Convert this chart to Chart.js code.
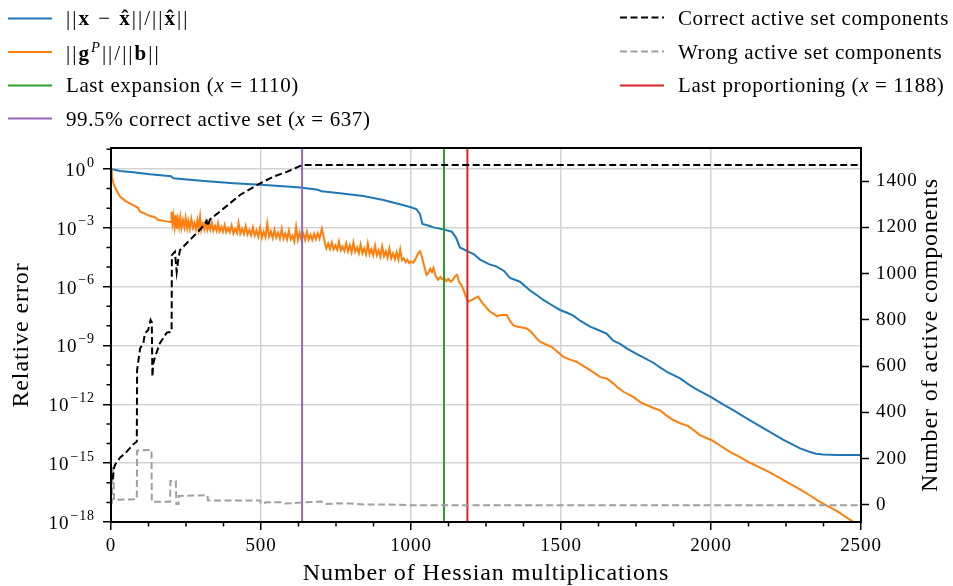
<!DOCTYPE html>
<html>
<head>
<meta charset="utf-8">
<script src="https://cdn.jsdelivr.net/npm/chart.js@4.4.1/dist/chart.umd.min.js"></script>
<style>
  html, body { margin: 0; padding: 0; background: #fff; }
  #wrap { position: relative; width: 953px; height: 586px; font-family: 'Liberation Serif', serif; }
  #chart { position: absolute; left: 0; top: 0; }
  .leg { position: absolute; display: flex; align-items: center; font-size: 21px; line-height: 1;
         letter-spacing: 0.6px; white-space: nowrap; color: #000; transform: translateY(-50%); }
  .leg svg { margin-right: 14px; flex: none; }
  .leg sup { font-size: 0.7em; vertical-align: 0.55em; }
  .leg .math { letter-spacing: 2px; }
</style>
</head>
<body>
<div id="wrap">
  <canvas id="chart" width="953" height="586"></canvas>
  <div id="legend"></div>
</div>
<script>
// ||x - x^|| / ||x^||  (log10 of the relative error)
const blueX = [0, 30, 74, 130, 200, 208, 300, 408, 500, 586,
  630, 690, 702, 763, 841, 908, 963, 1000, 1019, 1030,
  1038, 1063, 1074, 1108, 1136, 1150, 1163, 1186, 1210, 1230,
  1260, 1286, 1310, 1330, 1363, 1397, 1419, 1441, 1470, 1497,
  1520, 1541, 1565, 1597, 1630, 1652, 1674, 1697, 1719, 1750,
  1774, 1808, 1830, 1858, 1897, 1925, 1952, 2002, 2040, 2074,
  2130, 2186, 2240, 2297, 2330, 2350, 2374, 2420, 2500];
const blueLog10 = [0, -0.10, -0.17, -0.27, -0.37, -0.47, -0.60, -0.73, -0.81, -0.90,
  -0.95, -1.06, -1.14, -1.24, -1.38, -1.58, -1.80, -1.95, -2.06, -2.30,
  -2.80, -2.91, -2.98, -3.08, -3.20, -3.50, -4.00, -4.18, -4.35, -4.62,
  -4.85, -4.98, -5.20, -5.55, -5.75, -6.20, -6.43, -6.68, -6.95, -7.19,
  -7.33, -7.48, -7.75, -8.04, -8.25, -8.40, -8.75, -8.92, -9.15, -9.42,
  -9.61, -9.88, -10.12, -10.39, -10.68, -10.98, -11.24, -11.65, -12.00, -12.30,
  -12.82, -13.32, -13.80, -14.25, -14.43, -14.52, -14.56, -14.58, -14.58];

// ||g^P|| / ||b||  (log10)
const gradX = [0, 3, 8, 15, 30, 50, 74, 90, 97, 110,
  130, 145, 158, 180, 200, 202, 205, 208, 212, 216,
  219, 223, 227, 231, 235, 240, 245, 249, 254, 258,
  263, 268, 273, 278, 283, 288, 292, 297, 301, 306,
  311, 316, 321, 326, 331, 336, 341, 347, 352, 357,
  362, 368, 373, 379, 384, 390, 396, 402, 408, 414,
  420, 425, 431, 437, 443, 449, 455, 461, 467, 473,
  479, 485, 491, 497, 503, 509, 515, 521, 527, 533,
  539, 545, 551, 557, 563, 569, 575, 581, 587, 593,
  599, 605, 611, 617, 623, 629, 635, 641, 647, 653,
  659, 665, 671, 677, 683, 689, 695, 703, 708, 714,
  718, 724, 730, 736, 742, 748, 754, 760, 766, 772,
  778, 784, 790, 796, 802, 808, 814, 820, 826, 832,
  838, 844, 850, 856, 862, 868, 874, 880, 886, 892,
  898, 904, 910, 916, 922, 928, 934, 940, 946, 952,
  958, 964, 970, 976, 982, 988, 994, 1000, 1008, 1016,
  1024, 1030, 1036, 1044, 1052, 1058, 1064, 1070, 1075, 1082,
  1090, 1098, 1104, 1110, 1118, 1124, 1132, 1140, 1148, 1154,
  1160, 1168, 1176, 1184, 1191, 1200, 1212, 1224, 1232, 1242,
  1250, 1258, 1266, 1275, 1286, 1300, 1319, 1330, 1341, 1355,
  1370, 1386, 1400, 1419, 1430, 1450, 1469, 1490, 1508, 1530,
  1552, 1575, 1597, 1630, 1652, 1674, 1690, 1708, 1741, 1765,
  1786, 1810, 1830, 1850, 1874, 1900, 1924, 1945, 1963, 2002,
  2030, 2063, 2100, 2130, 2160, 2186, 2220, 2252, 2297, 2330,
  2363, 2400, 2419, 2450, 2469, 2490, 2500];
const gradLog10 = [0, -0.40, -0.73, -1.00, -1.41, -1.65, -1.84, -1.98, -2.18, -2.25,
  -2.40, -2.45, -2.60, -2.66, -2.70, -2.18, -2.75, -2.40, -2.95, -2.35,
  -3.05, -2.55, -2.95, -2.45, -3.00, -2.60, -2.98, -2.50, -3.02, -2.65,
  -3.05, -2.55, -3.00, -2.75, -3.08, -2.62, -3.05, -2.42, -3.10, -2.80,
  -3.08, -2.70, -3.12, -2.85, -3.10, -2.72, -3.15, -2.90, -3.15, -2.78,
  -3.18, -2.95, -3.20, -2.85, -3.22, -3.00, -3.22, -2.88, -3.28, -3.05,
  -3.27, -2.75, -3.30, -3.05, -3.32, -2.92, -3.35, -3.12, -3.38, -2.98,
  -3.40, -3.15, -3.45, -3.00, -3.50, -3.20, -3.48, -2.78, -3.45, -3.18,
  -3.52, -3.10, -3.50, -3.25, -3.55, -3.05, -3.55, -3.30, -3.60, -3.15,
  -3.58, -3.40, -3.70, -2.95, -3.62, -3.25, -3.65, -3.30, -3.62, -3.20,
  -3.60, -3.35, -3.62, -3.30, -3.58, -3.28, -3.55, -3.05, -3.40, -3.85,
  -4.05, -3.80, -4.08, -3.75, -4.10, -3.90, -4.12, -3.70, -4.15, -3.95,
  -4.18, -3.80, -4.20, -3.90, -4.25, -3.75, -4.22, -4.00, -4.30, -3.85,
  -4.30, -4.05, -4.35, -3.80, -4.35, -4.10, -4.40, -3.90, -4.40, -4.15,
  -4.48, -3.95, -4.45, -4.20, -4.52, -4.05, -4.55, -4.30, -4.60, -4.25,
  -4.62, -4.10, -4.65, -4.55, -4.75, -4.62, -4.80, -4.72, -4.78, -4.55,
  -4.30, -4.20, -4.45, -4.95, -5.40, -5.30, -5.10, -5.25, -5.05, -5.45,
  -5.65, -5.50, -5.62, -5.55, -5.72, -5.60, -5.75, -5.65, -5.45, -5.40,
  -5.75, -5.92, -6.20, -6.55, -6.77, -6.70, -6.60, -6.51, -6.70, -6.90,
  -7.05, -7.19, -7.30, -7.38, -7.50, -7.45, -7.45, -7.75, -7.96, -8.05,
  -8.08, -8.13, -8.30, -8.64, -8.81, -8.95, -9.07, -9.35, -9.58, -9.72,
  -9.83, -10.05, -10.26, -10.60, -10.68, -10.93, -11.15, -11.36, -11.62, -11.90,
  -12.04, -12.20, -12.30, -12.55, -12.80, -12.98, -13.11, -13.35, -13.57, -13.83,
  -14.10, -14.42, -14.72, -14.98, -15.20, -15.39, -15.68, -15.95, -16.34, -16.65,
  -16.97, -17.28, -17.43, -17.75, -17.94, -18.15, -18.25];

// active set components (right axis)
const correctX = [5, 10, 14, 30, 47, 74, 86, 87, 97, 108,
  113, 124, 132, 136, 138, 141, 147, 163, 186, 202,
  203, 213, 219, 224, 230, 274, 300, 319, 323, 330,
  363, 430, 497, 541, 586, 630, 641, 2500];
const correctCount = [110, 160, 175, 205, 223, 262, 274, 583, 677, 699,
  742, 756, 800, 790, 554, 612, 641, 699, 745, 749,
  1080, 1095, 1008, 1060, 1102, 1160, 1195, 1228, 1205, 1235,
  1268, 1340, 1390, 1419, 1440, 1465, 1469, 1469];
const wrongX = [0, 3, 5, 8, 10, 86, 87, 135, 136, 197,
  198, 216, 218, 225, 226, 322, 323, 497, 499, 520,
  570, 580, 640, 700, 712, 760, 800, 850, 930, 1000,
  1100, 2500];
const wrongCount = [0, 10, 160, 160, 22, 25, 235, 238, 14, 14,
  104, 104, 4, 4, 39, 42, 20, 19, 6, 12,
  12, 6, 11, 15, 4, 7, 6, 2, 2, -1,
  -1, -1];

// vertical markers: last expansion, 99.5% correct active set, last proportioning
const markerX = [1110, 637, 1188];

// axes
const xTicks = [0, 500, 1000, 1500, 2000, 2500];
const leftTicks = [1e-18, 1e-15, 1e-12, 1e-9, 1e-6, 1e-3, 1];
const rightTicks = [0, 200, 400, 600, 800, 1000, 1200, 1400];
const leftMin = 1e-18, leftMax = 11.7;
const rightMin = -73.5, rightMax = 1543;

const legendText = [
  '<span class="math">||<b>x</b> &minus; <b>x&#770;</b>||/||<b>x&#770;</b>||</span>',
  '<span class="math">||<b>g</b><sup><i>P</i></sup>||/||<b>b</b>||</span>',
  'Last expansion (<i>x</i> = ' + markerX[0] + ')',
  '99.5% correct active set (<i>x</i> = ' + markerX[1] + ')',
  'Correct active set components',
  'Wrong active set components',
  'Last proportioning (<i>x</i> = ' + markerX[2] + ')'
];

function logPoints(xs, ls) {
  const n = Math.min(xs.length, ls.length);
  const pts = [];
  for (let i = 0; i < n; i++) pts.push({ x: xs[i], y: Math.pow(10, ls[i]) });
  return pts;
}
function points(xs, ys) {
  const n = Math.min(xs.length, ys.length);
  const pts = [];
  for (let i = 0; i < n; i++) pts.push({ x: xs[i], y: ys[i] });
  return pts;
}
function vline(x) {
  return [{ x: x, y: leftMin }, { x: x, y: leftMax }];
}

const SERIF = "'Liberation Serif', serif";
const DASH = [7, 3.5];
const TICK_SIZE = 19;

Chart.defaults.font.family = SERIF;
Chart.defaults.color = '#000';

// minor ticks, frame, log tick labels and right axis title
const axisExtras = {
  id: 'axisExtras',
  beforeDraw(chart) {
    chart.ctx.letterSpacing = '0.9px';
  },
  afterDatasetsDraw(chart) {
    const { ctx, chartArea: a, scales } = chart;
    ctx.save();
    ctx.strokeStyle = '#000';
    ctx.lineWidth = 1.5;
    ctx.beginPath();
    for (let v = 125; v < 2500; v += 125) {
      if (v % 500 === 0) continue;
      const px = scales.x.getPixelForValue(v);
      ctx.moveTo(px, a.bottom);
      ctx.lineTo(px, a.bottom + 4.5);
    }
    for (let e = -17; e <= 1; e++) {
      if (e % 3 === 0) continue;
      const py = scales.y.getPixelForValue(Math.pow(10, e));
      if (py < a.top) continue;
      ctx.moveTo(a.left, py);
      ctx.lineTo(a.left - 4.5, py);
    }
    ctx.stroke();
    ctx.lineWidth = 2;
    ctx.strokeRect(a.left, a.top, a.right - a.left, a.bottom - a.top);

    // 10^n labels of the log axis, exponent raised
    ctx.fillStyle = '#000';
    ctx.textBaseline = 'middle';
    const right = a.left - 16;
    leftTicks.forEach(v => {
      const py = scales.y.getPixelForValue(v);
      const exp = Math.round(Math.log10(v));
      const expText = exp < 0 ? '\u2212' + (-exp) : String(exp);
      ctx.font = '14px ' + SERIF;
      const we = ctx.measureText(expText).width;
      ctx.textAlign = 'left';
      ctx.fillText(expText, right - we, py - 6);
      ctx.font = TICK_SIZE + 'px ' + SERIF;
      ctx.textAlign = 'right';
      ctx.fillText('10', right - we - 1, py + 2);
    });

    ctx.font = '24px ' + SERIF;
    ctx.textAlign = 'center';
    ctx.translate(931, (a.top + a.bottom) / 2);
    ctx.rotate(-Math.PI / 2);
    ctx.fillText('Number of active components', 0, 0);
    ctx.restore();
  }
};

const ctx = document.getElementById('chart').getContext('2d');
const chart = new Chart(ctx, {
  type: 'line',
  data: {
    datasets: [
      { label: '||x - x^||/||x^||', data: logPoints(blueX, blueLog10), borderColor: '#1f77b4', yAxisID: 'y', order: 6 },
      { label: '||g^P||/||b||', data: logPoints(gradX, gradLog10), borderColor: '#ff7f0e', yAxisID: 'y', order: 5 },
      { label: 'Last expansion', data: vline(markerX[0]), borderColor: '#2ca02c', yAxisID: 'y', order: 4 },
      { label: '99.5% correct active set', data: vline(markerX[1]), borderColor: '#9467bd', yAxisID: 'y', order: 3 },
      { label: 'Correct active set components', data: points(correctX, correctCount), borderColor: '#000000', borderDash: DASH, yAxisID: 'y2', order: 0 },
      { label: 'Wrong active set components', data: points(wrongX, wrongCount), borderColor: '#a0a0a0', borderDash: DASH, yAxisID: 'y2', order: 1 },
      { label: 'Last proportioning', data: vline(markerX[2]), borderColor: '#d62728', yAxisID: 'y', order: 2 }
    ]
  },
  options: {
    responsive: false,
    animation: false,
    devicePixelRatio: 1,
    layout: { padding: { top: 148, left: 0, right: 0, bottom: 0 } },
    elements: {
      line: { borderWidth: 2, tension: 0, fill: false },
      point: { radius: 0, hoverRadius: 0 }
    },
    plugins: { legend: { display: false }, tooltip: { enabled: false } },
    scales: {
      x: {
        type: 'linear', min: 0, max: 2500,
        afterBuildTicks: s => { s.ticks = xTicks.map(v => ({ value: v })); },
        afterFit: s => { s.height = 64; },
        ticks: { font: { size: TICK_SIZE }, padding: 5, maxRotation: 0, callback: v => String(v) },
        grid: { color: '#d3d3d3', lineWidth: 1.5, tickColor: '#000', tickLength: 8, tickWidth: 1.5 },
        border: { display: false },
        title: { display: true, text: 'Number of Hessian multiplications', font: { size: 24, lineHeight: 1 }, padding: { top: 0, bottom: 0 } }
      },
      y: {
        type: 'logarithmic', position: 'left', min: leftMin, max: leftMax,
        afterBuildTicks: s => { s.ticks = leftTicks.map(v => ({ value: v })); },
        afterFit: s => { s.width = 111; },
        ticks: { display: false },
        grid: { color: '#d3d3d3', lineWidth: 1.5, tickColor: '#000', tickLength: 8, tickWidth: 1.5 },
        border: { display: false },
        title: { display: true, text: 'Relative error', font: { size: 24, lineHeight: 1 }, padding: { top: 10, bottom: 0 } }
      },
      y2: {
        type: 'linear', position: 'right', min: rightMin, max: rightMax,
        afterBuildTicks: s => { s.ticks = rightTicks.map(v => ({ value: v })); },
        afterFit: s => { s.width = 92; },
        ticks: { font: { size: TICK_SIZE }, padding: 7, callback: v => String(v) },
        grid: { drawOnChartArea: false, tickColor: '#000', tickLength: 8, tickWidth: 1.5 },
        border: { display: false }
      }
    }
  },
  plugins: [axisExtras]
});

// legend: two columns, filled column by column
const legendPos = [
  { left: 8, top: 18 }, { left: 8, top: 51.5 }, { left: 8, top: 85 }, { left: 8, top: 118.5 },
  { left: 620, top: 17.5 }, { left: 620, top: 51.5 }, { left: 620, top: 85 }
];
const legendBox = document.getElementById('legend');
chart.data.datasets.forEach((ds, i) => {
  const item = document.createElement('div');
  item.className = 'leg';
  item.style.left = legendPos[i].left + 'px';
  item.style.top = legendPos[i].top + 'px';
  const dash = ds.borderDash ? ds.borderDash.join(',') : 'none';
  item.innerHTML = '<svg width="44" height="6"><line x1="0" y1="3" x2="44" y2="3" stroke="' + ds.borderColor +
    '" stroke-width="2" stroke-dasharray="' + dash + '"/></svg><span>' + legendText[i] + '</span>';
  legendBox.appendChild(item);
});
</script>
</body>
</html>
